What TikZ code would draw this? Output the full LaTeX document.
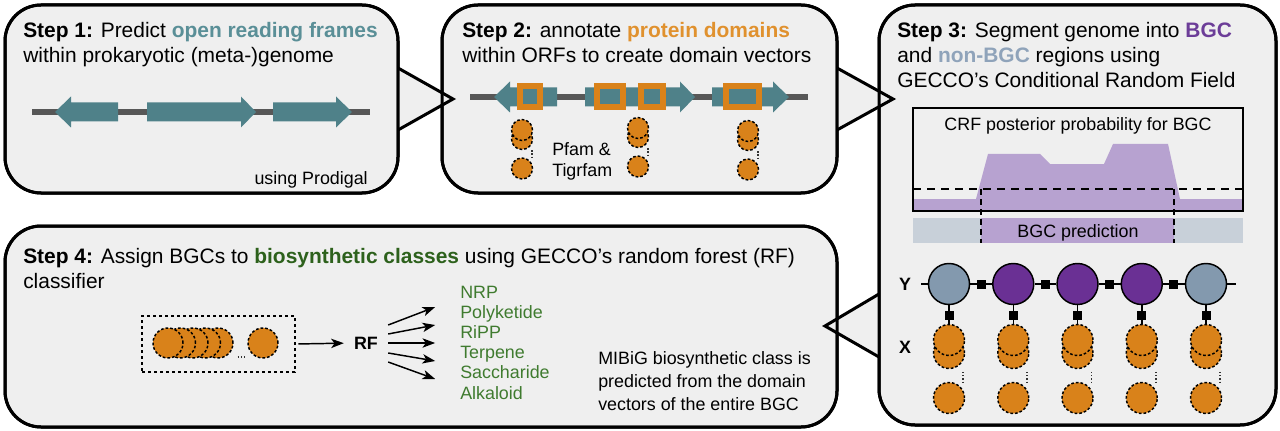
\documentclass[tikz,border=0pt]{standalone}
\usepackage{fontspec}
\setmainfont{Liberation Sans}
\usetikzlibrary{arrows.meta, positioning}
\definecolor{panelfill}{HTML}{EFEFEF}
\definecolor{orfteal}{HTML}{4F8189}
\definecolor{orftext}{HTML}{5A8F97}
\definecolor{domorange}{HTML}{D9821A}
\definecolor{domtext}{HTML}{E0912E}
\definecolor{bgcpurple}{HTML}{6A3094}
\definecolor{bgclight}{HTML}{B7A2D0}
\definecolor{bgctext}{HTML}{6C3D98}
\definecolor{nonbgc}{HTML}{8399AE}
\definecolor{nonbgctext}{HTML}{8FA3BA}
\definecolor{nonbgclight}{HTML}{C8D0D9}
\definecolor{classgreen}{HTML}{2D611C}
\definecolor{labelgreen}{HTML}{3F7B2F}
\definecolor{genome}{HTML}{575757}

% tail x, head base x, tip x, centre y
\newcommand{\orfarrow}[4]{%
  \fill[orfteal] (#1,#4-9.5) -- (#2,#4-9.5) -- (#2,#4-15.5) -- (#3,#4) -- (#2,#4+15.5) -- (#2,#4+9.5) -- (#1,#4+9.5) -- cycle;}

\begin{document}
\begin{tikzpicture}[x=0.75pt, y=-0.75pt,
    panel/.style={rectangle, rounded corners=27pt, draw=black, line width=2.25pt, fill=panelfill, outer sep=0pt, inner sep=0pt},
    panelline/.style={draw=black, line width=2.25pt, rounded corners=27pt},
    pointer/.style={fill=panelfill, draw=black, line width=2.25pt, line join=miter},
    steptext/.style={inner sep=0pt, align=left, font=\fontsize{15.7}{18.75}\selectfont},
    smalltext/.style={inner sep=0pt, align=left, font=\fontsize{13.4}{15.15}\selectfont},
    boldlabel/.style={inner sep=0pt, font=\fontsize{13.4}{15}\selectfont\bfseries},
    genomeline/.style={draw=genome, line width=4.5pt},
    domainbox/.style={draw=domorange, line width=4.5pt},
    dom/.style={circle, fill=domorange, draw=black, line width=1.1pt, dash pattern=on 2pt off 1.5pt, inner sep=0pt},
    vecdots/.style={draw=black!80, line width=1.3pt, dash pattern=on 1pt off 1.4pt},
    ystate/.style={circle, draw=black, line width=1.1pt, minimum size=30.75pt, inner sep=0pt},
    factor/.style={rectangle, fill=black, minimum size=6.75pt, inner sep=0pt},
    edgeline/.style={draw=black, line width=1.1pt},
    fan/.style={draw=black, line width=1.1pt, -{Stealth[length=9.5pt, width=7pt, inset=2.5pt]}}]

  \useasboundingbox (0,0) rectangle (1280,431);

  % panels
  \node[panel, minimum width=294.75pt, minimum height=141pt] (p1) at (201.5,99) {};
  \node[panel, minimum width=296.25pt, minimum height=141pt] (p2) at (639.5,99) {};
  \node[panel, minimum width=297.75pt, minimum height=315pt] (p3) at (1077.5,215) {};
  \node[panel, minimum width=624pt, minimum height=150.75pt] (p4) at (421,326.5) {};

  % speech pointers, then borders again on top
  \filldraw[pointer] (398,68) -- (453,99) -- (398,130);
  \filldraw[pointer] (837,68) -- (893,99) -- (837,130);
  \filldraw[pointer] (879,294) -- (825,326) -- (879,357);
  \foreach \p in {p1,p2,p3,p4}
    \draw[panelline] (\p.south west) rectangle (\p.north east);

  % step 1 (multi-line nodes sit on their last baseline)
  \node[steptext, anchor=base west] (s1) at (23,63)
    {\textbf{Step 1:} Predict \textcolor{orftext}{\textbf{open reading frames}}\\within prokaryotic (meta-)genome};
  \draw[genomeline] (32,112) -- (370,112);
  \orfarrow{118}{71}{55}{112}
  \orfarrow{147}{241}{256}{112}
  \orfarrow{273}{336}{352}{112}
  \node[smalltext, anchor=base east] (prodigal) at (368,184) {using Prodigal};

  % step 2
  \node[steptext, anchor=base west] (s2) at (462,63)
    {\textbf{Step 2:} annotate \textcolor{domtext}{\textbf{protein domains}}\\within ORFs to create domain vectors};
  \draw[genomeline] (470,97) -- (808,97);
  \orfarrow{557}{510}{494}{97}
  \orfarrow{585}{680}{695}{97}
  \orfarrow{712}{773}{789}{97}
  \foreach \xa/\xb in {520/540, 597/623, 641/663, 726/759}
    \draw[domainbox] (\xa,86) rectangle (\xb,107);
  \foreach \c/\cx/\cy in {1/522/130, 2/638/128, 3/748/131} {
    \node[dom, minimum size=15.75pt] (db\c) at (\cx,\cy+9) {};
    \node[dom, minimum size=15.75pt] (da\c) at (\cx,\cy) {};
    \node[dom, minimum size=15.75pt] (dc\c) at (\cx,\cy+38.5) {};
    \draw[vecdots] ([xshift=7.5pt]db\c.south) -- ([xshift=7.5pt]dc\c.north);
  }
  \node[smalltext, anchor=base west] (pfam) at (552,176) {Pfam \&\\Tigrfam};

  % step 3
  \node[steptext, anchor=base west] (s3) at (897,88)
    {\textbf{Step 3:} Segment genome into \textcolor{bgctext}{\textbf{BGC}}\\and \textcolor{nonbgctext}{\textbf{non-BGC}} regions using\\GECCO’s Conditional Random Field};
  \fill[bgclight] (913,211) -- (913,199) -- (976,199) -- (988,154) -- (1040,154) -- (1050,164)
    -- (1104,164) -- (1113,144) -- (1168,144) -- (1180,199) -- (1243,199) -- (1243,211) -- cycle;
  \draw[line width=1.5pt, dash pattern=on 6pt off 4.5pt] (913,189) -- (1243,189);
  \draw[line width=1.9pt] (913,108) rectangle (1243,211);
  \node[smalltext, anchor=base] (crftitle) at (1078,131) {CRF posterior probability for BGC};
  \fill[nonbgclight] (913,218) rectangle (1243,243);
  \fill[bgclight] (981,218) rectangle (1174,243);
  \node[smalltext, anchor=base] (bgcpred) at (1078,237) {BGC prediction};
  \draw[line width=1.1pt, dash pattern=on 4.5pt off 3pt] (981,189) -- (981,243);
  \draw[line width=1.1pt, dash pattern=on 4.5pt off 3pt] (1174,189) -- (1174,243);

  \node[boldlabel] (ylab) at (905,284) {Y};
  \node[boldlabel] (xlab) at (905,347) {X};
  \foreach \i [evaluate=\i as \xx using 949+64.25*(\i-1)] in {1,...,5} {
    \node[dom, minimum size=23.25pt] (xb\i) at (\xx,353) {};
    \node[dom, minimum size=23.25pt] (xa\i) at (\xx,340) {};
    \node[dom, minimum size=23.25pt] (xc\i) at (\xx,398) {};
    \draw[vecdots] ([xshift=10.5pt,yshift=-2pt]xb\i.south) -- ([xshift=10.5pt]xc\i.north);
  }
  \foreach \i/\col [evaluate=\i as \xx using 949+64.25*(\i-1)] in {1/nonbgc, 2/bgcpurple, 3/bgcpurple, 4/bgcpurple, 5/nonbgc}
    \node[ystate, fill=\col] (yy\i) at (\xx,284) {};
  \draw[edgeline] (yy1.west) -- ++(-7,0);
  \draw[edgeline] (yy5.east) -- ++(9,0);
  \foreach \i/\j in {1/2, 2/3, 3/4, 4/5}
    \draw[edgeline] (yy\i.east) -- node[factor] (fy\i) {} (yy\j.west);
  \foreach \i in {1,...,5}
    \draw[edgeline] (yy\i.south) -- node[factor, pos=0.575] (fx\i) {} (xa\i.north);

  % step 4
  \node[steptext, anchor=base west] (s4) at (23,288)
    {\textbf{Step 4:} Assign BGCs to \textcolor{classgreen}{\textbf{biosynthetic classes}} using GECCO’s random forest (RF)\\classifier};
  \node[draw=black, line width=1.1pt, dash pattern=on 2.5pt off 2pt, minimum width=114.75pt, minimum height=42pt, inner sep=0pt] (vec) at (218.5,344) {};
  \foreach \i/\cx in {5/218, 4/205.5, 3/193, 2/180.5, 1/168}
    \node[dom, minimum size=22.5pt] (v\i) at (\cx,343) {};
  \node[dom, minimum size=22.5pt] (vlast) at (263,343) {};
  \draw[vecdots] ([xshift=3pt,yshift=-10.5pt]v5.east) -- ([yshift=-10.5pt]vlast.west);
  \node[boldlabel] (rf) at (366,343) {RF};
  \draw[fan, shorten <=2pt, shorten >=7.5pt] (vec.east) -- (rf.west);
  \foreach \ds/\de in {-18/-18, -9/-9, 0/0, 10/8, 19/17}
    \draw[fan] (rf.east) ++(10,\ds) -- ++(47,\de);
  \node[smalltext, anchor=base west, text=labelgreen] (classes) at (460,399)
    {NRP\\Polyketide\\RiPP\\Terpene\\Saccharide\\Alkaloid};
  \node[smalltext, anchor=base west, font=\fontsize{13.4}{17}\selectfont] (note) at (598,410)
    {MIBiG biosynthetic class is\\predicted from the domain\\vectors of the entire BGC};
\end{tikzpicture}
\end{document}
